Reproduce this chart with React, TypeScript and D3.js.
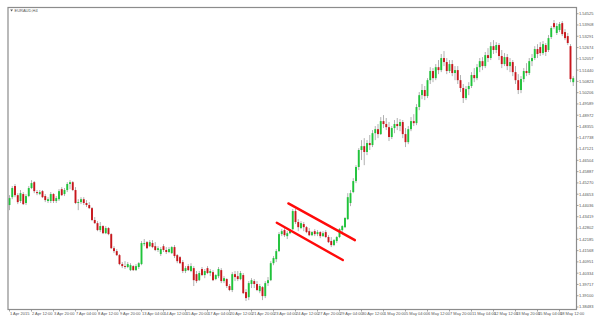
import React from 'react';
import * as d3 from 'd3';

const title = 'EURAUD,H4';

const priceLabels = [
  '1.54525', '1.53908', '1.53291', '1.52674', '1.52057', '1.51440', '1.50823', '1.50206', '1.49589',
  '1.48972', '1.48355', '1.47738', '1.47121', '1.46504', '1.45887', '1.45270', '1.44653', '1.44036',
  '1.43419', '1.42802', '1.42185', '1.41568', '1.40951', '1.40334', '1.39717', '1.39100', '1.38483',
];

const dateLabels = [
  '1 Apr 2015', '2 Apr 12:00', '3 Apr 20:00', '7 Apr 04:00', '8 Apr 12:00', '9 Apr 20:00',
  '13 Apr 04:00', '14 Apr 12:00', '15 Apr 20:00', '17 Apr 04:00', '20 Apr 12:00', '21 Apr 20:00',
  '23 Apr 04:00', '24 Apr 12:00', '27 Apr 20:00', '29 Apr 04:00', '30 Apr 12:00', '1 May 20:00',
  '5 May 04:00', '6 May 12:00', '7 May 20:00', '11 May 04:00', '12 May 12:00', '13 May 20:00',
  '15 May 04:00', '18 May 12:00',
];
const barsPerLabel = 8;

// open, high, low, close
const ohlc: [number, number, number, number][] = [
  [1.4406,1.4460,1.4378,1.4444],[1.4449,1.4510,1.4438,1.4499],[1.4510,1.4521,1.4449,1.4460],[1.4460,1.4471,1.4411,1.4422],
  [1.4428,1.4488,1.4417,1.4471],[1.4466,1.4477,1.4406,1.4411],[1.4417,1.4466,1.4406,1.4455],[1.4455,1.4510,1.4449,1.4499],
  [1.4499,1.4542,1.4493,1.4526],[1.4531,1.4537,1.4471,1.4482],[1.4477,1.4488,1.4460,1.4471],[1.4466,1.4488,1.4460,1.4477],
  [1.4482,1.4488,1.4444,1.4449],[1.4455,1.4466,1.4422,1.4433],[1.4428,1.4449,1.4417,1.4438],[1.4428,1.4477,1.4417,1.4466],
  [1.4466,1.4471,1.4417,1.4428],[1.4428,1.4455,1.4417,1.4444],[1.4438,1.4493,1.4428,1.4482],[1.4493,1.4504,1.4455,1.4460],
  [1.4466,1.4499,1.4455,1.4488],[1.4488,1.4531,1.4477,1.4521],[1.4521,1.4542,1.4493,1.4531],[1.4531,1.4537,1.4482,1.4488],
  [1.4488,1.4504,1.4411,1.4417],[1.4417,1.4438,1.4378,1.4422],[1.4422,1.4449,1.4411,1.4438],[1.4438,1.4449,1.4406,1.4417],
  [1.4417,1.4433,1.4395,1.4406],[1.4406,1.4422,1.4384,1.4389],[1.4389,1.4395,1.4318,1.4324],[1.4324,1.4340,1.4302,1.4307],
  [1.4307,1.4318,1.4263,1.4269],[1.4269,1.4313,1.4258,1.4291],[1.4291,1.4296,1.4247,1.4252],[1.4252,1.4291,1.4247,1.4280],
  [1.4280,1.4285,1.4241,1.4247],[1.4247,1.4252,1.4165,1.4170],[1.4170,1.4181,1.4143,1.4154],[1.4154,1.4165,1.4127,1.4132],
  [1.4132,1.4138,1.4077,1.4083],[1.4083,1.4094,1.4061,1.4072],[1.4072,1.4099,1.4056,1.4067],[1.4067,1.4094,1.4061,1.4083],
  [1.4050,1.4088,1.4045,1.4077],[1.4072,1.4077,1.4045,1.4050],[1.4050,1.4083,1.4045,1.4072],[1.4067,1.4094,1.4056,1.4088],
  [1.4083,1.4209,1.4077,1.4198],[1.4192,1.4220,1.4181,1.4198],[1.4203,1.4209,1.4165,1.4170],[1.4181,1.4214,1.4176,1.4203],
  [1.4198,1.4214,1.4170,1.4176],[1.4181,1.4203,1.4154,1.4160],[1.4160,1.4181,1.4149,1.4170],[1.4138,1.4176,1.4127,1.4165],
  [1.4181,1.4192,1.4149,1.4160],[1.4160,1.4176,1.4138,1.4149],[1.4149,1.4176,1.4143,1.4165],[1.4143,1.4181,1.4138,1.4176],
  [1.4176,1.4187,1.4116,1.4127],[1.4132,1.4138,1.4088,1.4099],[1.4121,1.4127,1.4083,1.4088],[1.4094,1.4105,1.4034,1.4045],
  [1.4045,1.4072,1.4034,1.4061],[1.4072,1.4083,1.4045,1.4050],[1.4045,1.4088,1.4039,1.4072],[1.4061,1.4072,1.3963,1.3995],
  [1.4028,1.4045,1.3979,1.3990],[1.3995,1.4045,1.3990,1.4034],[1.4056,1.4067,1.4017,1.4023],[1.4023,1.4056,1.4006,1.4045],
  [1.4061,1.4072,1.4028,1.4034],[1.4034,1.4056,1.4017,1.4045],[1.4039,1.4050,1.3990,1.3995],[1.4001,1.4028,1.3995,1.4023],
  [1.4017,1.4067,1.4006,1.4056],[1.4050,1.4061,1.3979,1.3990],[1.3990,1.4017,1.3979,1.4006],[1.4001,1.4006,1.3952,1.3963],
  [1.3963,1.3974,1.3935,1.3941],[1.3941,1.4039,1.3930,1.4028],[1.4028,1.4045,1.3990,1.4012],[1.4017,1.4045,1.3990,1.4001],
  [1.4001,1.4045,1.3995,1.4034],[1.4023,1.4034,1.3919,1.3924],[1.3930,1.3946,1.3881,1.3897],[1.3902,1.3990,1.3886,1.3979],
  [1.3974,1.4006,1.3952,1.3995],[1.3990,1.4001,1.3952,1.3974],[1.3974,1.3990,1.3935,1.3941],[1.3935,1.3974,1.3924,1.3963],
  [1.3957,1.3963,1.3886,1.3908],[1.3908,1.3990,1.3897,1.3979],[1.3979,1.4012,1.3963,1.3995],[1.3995,1.4099,1.3990,1.4088],
  [1.4088,1.4127,1.4077,1.4116],[1.4110,1.4165,1.4094,1.4154],[1.4154,1.4258,1.4149,1.4247],[1.4247,1.4274,1.4236,1.4263],
  [1.4269,1.4280,1.4231,1.4241],[1.4236,1.4263,1.4220,1.4252],[1.4252,1.4274,1.4247,1.4269],[1.4274,1.4384,1.4269,1.4373],
  [1.4373,1.4384,1.4302,1.4313],[1.4313,1.4329,1.4263,1.4285],[1.4280,1.4318,1.4274,1.4307],[1.4302,1.4313,1.4263,1.4285],
  [1.4285,1.4291,1.4252,1.4258],[1.4263,1.4280,1.4236,1.4241],[1.4241,1.4263,1.4236,1.4258],[1.4263,1.4274,1.4236,1.4247],
  [1.4247,1.4269,1.4236,1.4258],[1.4258,1.4263,1.4225,1.4236],[1.4236,1.4263,1.4231,1.4252],[1.4258,1.4269,1.4225,1.4231],
  [1.4231,1.4241,1.4198,1.4203],[1.4209,1.4231,1.4176,1.4187],[1.4187,1.4220,1.4181,1.4214],[1.4209,1.4236,1.4198,1.4231],
  [1.4231,1.4280,1.4225,1.4274],[1.4269,1.4296,1.4258,1.4291],[1.4285,1.4340,1.4280,1.4335],[1.4329,1.4471,1.4324,1.4449],
  [1.4417,1.4488,1.4400,1.4471],[1.4477,1.4553,1.4471,1.4537],[1.4537,1.4624,1.4526,1.4614],[1.4614,1.4717,1.4597,1.4707],
  [1.4707,1.4761,1.4652,1.4728],[1.4728,1.4772,1.4624,1.4696],[1.4696,1.4761,1.4679,1.4745],[1.4745,1.4789,1.4707,1.4734],
  [1.4734,1.4816,1.4723,1.4799],[1.4799,1.4838,1.4761,1.4821],[1.4821,1.4849,1.4772,1.4794],[1.4794,1.4887,1.4789,1.4865],
  [1.4865,1.4898,1.4827,1.4849],[1.4849,1.4882,1.4816,1.4832],[1.4832,1.4860,1.4756,1.4778],[1.4778,1.4838,1.4767,1.4827],
  [1.4827,1.4871,1.4799,1.4849],[1.4849,1.4882,1.4816,1.4838],[1.4838,1.4876,1.4810,1.4860],[1.4860,1.4871,1.4772,1.4794],
  [1.4794,1.4827,1.4723,1.4750],[1.4750,1.4838,1.4739,1.4821],[1.4821,1.4887,1.4810,1.4865],[1.4865,1.4903,1.4838,1.4854],
  [1.4854,1.4958,1.4843,1.4942],[1.4942,1.5024,1.4925,1.5007],[1.5007,1.5068,1.4985,1.5035],[1.5035,1.5057,1.4980,1.5002],
  [1.5002,1.5100,1.4991,1.5089],[1.5089,1.5160,1.5068,1.5139],[1.5139,1.5155,1.5078,1.5100],[1.5100,1.5177,1.5089,1.5160],
  [1.5160,1.5199,1.5122,1.5144],[1.5144,1.5232,1.5133,1.5210],[1.5210,1.5248,1.5166,1.5188],[1.5188,1.5210,1.5122,1.5139],
  [1.5139,1.5199,1.5128,1.5177],[1.5177,1.5199,1.5111,1.5128],[1.5128,1.5166,1.5089,1.5144],[1.5144,1.5166,1.5068,1.5089],
  [1.5089,1.5117,1.5024,1.5046],[1.5046,1.5068,1.4964,1.4991],[1.4991,1.5057,1.4980,1.5040],[1.5040,1.5078,1.5007,1.5057],
  [1.5057,1.5133,1.5046,1.5117],[1.5117,1.5155,1.5078,1.5100],[1.5100,1.5177,1.5089,1.5160],[1.5160,1.5210,1.5133,1.5193],
  [1.5193,1.5215,1.5144,1.5166],[1.5166,1.5243,1.5155,1.5226],[1.5226,1.5264,1.5188,1.5210],[1.5210,1.5297,1.5199,1.5275],
  [1.5275,1.5308,1.5232,1.5254],[1.5254,1.5297,1.5237,1.5281],[1.5281,1.5292,1.5199,1.5221],[1.5221,1.5254,1.5155,1.5177],
  [1.5177,1.5237,1.5166,1.5215],[1.5215,1.5232,1.5144,1.5166],[1.5166,1.5210,1.5133,1.5188],[1.5188,1.5199,1.5111,1.5133],
  [1.5133,1.5166,1.5068,1.5089],[1.5089,1.5122,1.5013,1.5035],[1.5035,1.5111,1.5018,1.5095],[1.5095,1.5155,1.5078,1.5139],
  [1.5139,1.5182,1.5111,1.5128],[1.5128,1.5210,1.5117,1.5193],[1.5193,1.5232,1.5166,1.5210],[1.5210,1.5275,1.5199,1.5259],
  [1.5259,1.5286,1.5210,1.5232],[1.5270,1.5297,1.5221,1.5237],[1.5237,1.5303,1.5226,1.5286],[1.5281,1.5292,1.5221,1.5243],
  [1.5254,1.5336,1.5243,1.5319],[1.5325,1.5385,1.5314,1.5374],[1.5401,1.5418,1.5368,1.5379],[1.5347,1.5401,1.5336,1.5385],
  [1.5363,1.5407,1.5352,1.5396],[1.5401,1.5412,1.5330,1.5341],[1.5352,1.5368,1.5308,1.5319],[1.5330,1.5347,1.5281,1.5292],
  [1.5275,1.5286,1.5078,1.5095],[1.5078,1.5111,1.5057,1.5100],
];

// trend channel drawn on the chart: [bar index, price]
const channelUpper: [number, number][] = [[101.4, 1.4415], [125.6, 1.4214]];
const channelLower: [number, number][] = [[97.2, 1.4309], [121.2, 1.4105]];

const FONT = '"Liberation Sans", Arial, sans-serif';

export default function App() {
  const W = 600;
  const H = 323;
  const frame = { left: 8, top: 7.5, right: 576.5, bottom: 309.5 };

  const x = d3.scaleLinear().domain([0, ohlc.length - 1]).range([9.5, 573.25]);
  const pv = priceLabels.map(Number);
  const y = d3.scaleLinear().domain([d3.min(pv) as number, d3.max(pv) as number]).range([307, 13.7]);
  const bw = 1.9;
  const line = d3.line<[number, number]>().x((d) => x(d[0])).y((d) => y(d[1]));

  return (
    <svg width={W} height={H} style={{ position: 'absolute', left: 0, top: 0, background: '#fff' }}>
      <rect x={0} y={0} width={W} height={H} fill="#fff" />
      {ohlc.map(([o, h, l, c], i) => {
        const cx = x(i);
        const top = y(Math.max(o, c));
        const bot = y(Math.min(o, c));
        const bull = c >= o;
        return (
          <g key={i}>
            <line x1={cx} x2={cx} y1={y(h)} y2={y(l)} stroke="#a8a8a8" strokeWidth={0.9} />
            <rect
              x={cx - bw / 2}
              y={top}
              width={bw}
              height={Math.max(bot - top, 0.8)}
              fill={bull ? '#1fc43a' : '#c8161c'}
            />
          </g>
        );
      })}
      <path d={line(channelUpper) || ''} stroke="#ff0a0a" strokeWidth={2.4} fill="none" strokeLinecap="round" />
      <path d={line(channelLower) || ''} stroke="#ff0a0a" strokeWidth={2.4} fill="none" strokeLinecap="round" />
      <rect
        x={frame.left}
        y={frame.top}
        width={frame.right - frame.left}
        height={frame.bottom - frame.top}
        fill="none"
        stroke="#8c8c8c"
        strokeWidth={1.2}
      />
      <path d="M10.2,9.6 L13,9.6 L11.6,11.6 Z" fill="#555" />
      <text x={14.5} y={11.6} fontSize={4} fontFamily={FONT} fill="#555">
        {title}
      </text>
      {priceLabels.map((t) => {
        const yy = y(Number(t));
        return (
          <g key={t}>
            <line x1={frame.right} x2={frame.right + 2} y1={yy} y2={yy} stroke="#8c8c8c" strokeWidth={0.8} />
            <text x={579} y={yy + 1.4} fontSize={4} fontFamily={FONT} fill="#555">
              {t}
            </text>
          </g>
        );
      })}
      {dateLabels.map((t, k) => {
        const xx = x(k * barsPerLabel);
        return (
          <g key={t}>
            <line x1={xx} x2={xx} y1={frame.bottom} y2={frame.bottom + 2} stroke="#8c8c8c" strokeWidth={0.8} />
            <text x={xx + 0.5} y={314.5} fontSize={4} fontFamily={FONT} fill="#555">
              {t}
            </text>
          </g>
        );
      })}
    </svg>
  );
}
